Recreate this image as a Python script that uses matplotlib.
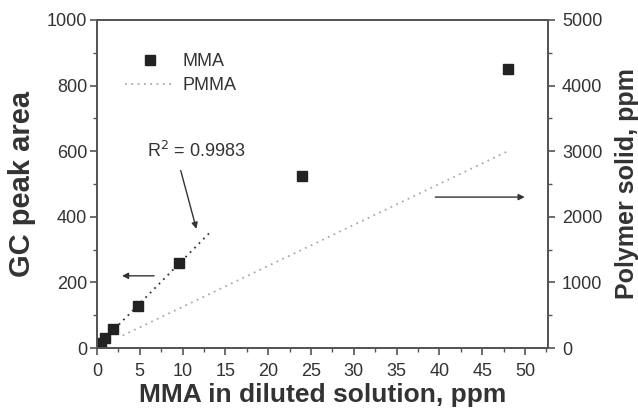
import numpy as np
import matplotlib
matplotlib.use("Agg")
import matplotlib.pyplot as plt
from matplotlib.ticker import MultipleLocator

plt.rcParams['font.family'] = ['Liberation Sans', 'DejaVu Sans']

# Data
mma_x = [0.48, 0.96, 1.92, 4.8, 9.6, 24, 48]
mma_area = [15, 30, 57, 128, 258, 525, 850]
fit_n = 5                      # points used in the linear fit
fit_range = [0.48, 13.4]
pmma_x = [3.0, 48.0]
pmma_solid = [190, 3000]
r2_text = "R$^2$ = 0.9983"

x_label = "MMA in diluted solution, ppm"
y_label = "GC peak area"
y2_label = "Polymer solid, ppm"

fig = plt.figure(figsize=(6.38, 4.15), dpi=100)
ax = fig.add_axes([0.152, 0.1614, 0.707, 0.7906])
ax2 = ax.twinx()

spine_c = '#555555'
text_c = '#333333'

# fit line
coef = np.polyfit(mma_x[:fit_n], mma_area[:fit_n], 1)
fx = np.array(fit_range)
ax.plot(fx, np.polyval(coef, fx), linestyle=(0, (1, 2.5)), color='#333333', lw=1.3, zorder=2)

ax.plot(mma_x, mma_area, linestyle='none', marker='s', ms=7.5, color='#222222', label='MMA', zorder=3)
ax2.plot(pmma_x, pmma_solid, linestyle=(0, (1, 2.5)), color='#aaaaaa', lw=1.3, label='PMMA')

ax.set_xlim(0, 52.7)
ax.set_ylim(0, 1000)
ax2.set_ylim(0, 5000)

ax.xaxis.set_major_locator(MultipleLocator(5))
ax.xaxis.set_minor_locator(MultipleLocator(2.5))
ax.yaxis.set_major_locator(MultipleLocator(200))
ax.yaxis.set_minor_locator(MultipleLocator(100))
ax2.yaxis.set_major_locator(MultipleLocator(1000))
ax2.yaxis.set_minor_locator(MultipleLocator(500))

for a in (ax, ax2):
    for s in a.spines.values():
        s.set_color(spine_c)
        s.set_linewidth(1.3)
    a.tick_params(which='major', direction='out', length=5, width=1.2, color=spine_c,
                  labelsize=13, labelcolor=text_c)
    a.tick_params(which='minor', direction='out', length=3, width=1.0, color=spine_c)
ax.tick_params(axis='x', which='both', top=False, pad=6)
ax.tick_params(axis='y', which='both', right=False, pad=2)
ax2.tick_params(axis='y', pad=5)

ax.set_xlabel(x_label, fontsize=19, fontweight='bold', color=text_c, labelpad=2)
ax.set_ylabel(y_label, fontsize=21, fontweight='bold', color=text_c, labelpad=8)
ax2.set_ylabel(y2_label, fontsize=18, fontweight='bold', color=text_c, labelpad=9)

# legend
h1, l1 = ax.get_legend_handles_labels()
h2, l2 = ax2.get_legend_handles_labels()
leg = ax.legend(h1 + h2, l1 + l2, loc='upper left', bbox_to_anchor=(0.027, 0.948),
                frameon=False, fontsize=13, handlelength=2.67, labelspacing=0.4,
                handletextpad=0.5, labelcolor=text_c)

# annotations
ax.text(11.6, 600, r2_text, fontsize=13, color=text_c, ha='center', va='center')
arrow_kw = dict(arrowstyle='-|>', color='#333333', lw=1.0, mutation_scale=9)
ax.annotate('', xy=(11.7, 355), xytext=(9.7, 549), arrowprops=arrow_kw)
ax.annotate('', xy=(2.6, 220), xytext=(7.0, 220), arrowprops=arrow_kw)
ax.annotate('', xy=(50.3, 460), xytext=(39.2, 460), arrowprops=arrow_kw)

fig.savefig('out.png', dpi=100)
